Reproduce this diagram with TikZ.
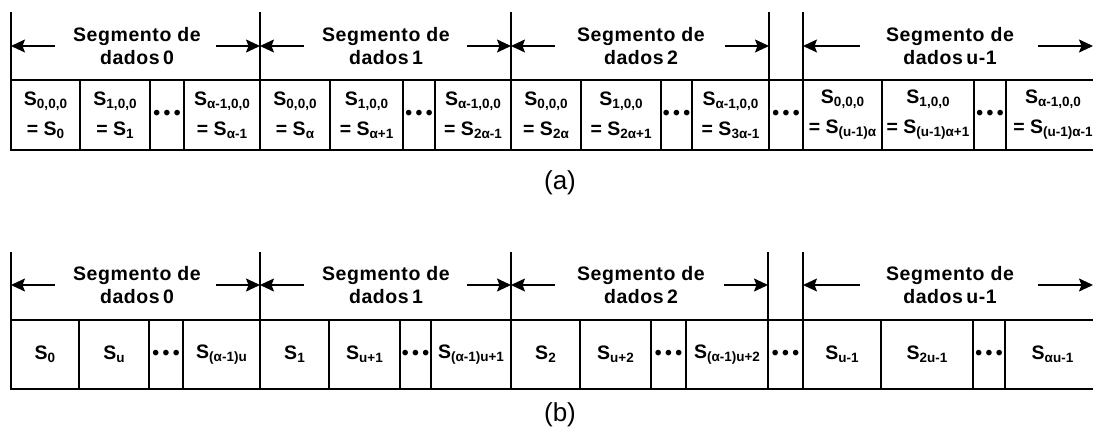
\documentclass[tikz,border=0pt]{standalone}
\usepackage{fontspec}
\setmainfont{Liberation Sans}
\newfontfamily\headfont[LetterSpace=3]{Liberation Sans}
\usetikzlibrary{arrows.meta}

% lowered, smaller index after an S
\newcommand\lowsub[1]{\raisebox{-3pt}{\fontsize{13.5}{13.5}\selectfont #1}}
% three bold dots
\newcommand\threedots{•\hspace{3.5pt}•\hspace{3.5pt}•}
% one cell of a row: name, left x, right x, top y, bottom y, contents
\newcommand\cellbox[6]{%
  \node[cell, minimum width={#3-#2}, minimum height={#5-#4}] (#1)
    at ({(#2+#3)/2},{(#4+#5)/2}) {#6};}

\tikzset{
  frame/.style={line width=1.6pt},
  cell/.style={frame, draw, inner sep=0pt, outer sep=0pt, align=center,
    font=\fontsize{19.5}{30}\selectfont\bfseries},
  head/.style={inner sep=0pt, align=center,
    font=\headfont\fontsize{19.5}{23}\selectfont\bfseries},
  arr/.style={line width=1.6pt, -{Stealth[length=14pt,width=13pt,inset=2.5pt]}},
  caption/.style={font=\fontsize{26}{26}\selectfont}
}

\begin{document}
\begin{tikzpicture}[x=1pt, y=-1pt]
\useasboundingbox (0,0) rectangle (1093,433);
\clip (0,0) rectangle (1093,433);

% ---------------- (a) ----------------
\cellbox{a1}{11}{80}{80}{150}{S\lowsub{0,0,0}\\= S\lowsub{0}}
\cellbox{a2}{80}{150}{80}{150}{S\lowsub{1,0,0}\\= S\lowsub{1}}
\cellbox{a3}{150}{184}{80}{150}{\threedots}
\cellbox{a4}{184}{260}{80}{150}{S\lowsub{α-1,0,0}\\= S\lowsub{α-1}}
\cellbox{a5}{260}{330}{80}{150}{S\lowsub{0,0,0}\\= S\lowsub{α}}
\cellbox{a6}{330}{403}{80}{150}{S\lowsub{1,0,0}\\= S\lowsub{α+1}}
\cellbox{a7}{403}{435}{80}{150}{\threedots}
\cellbox{a8}{435}{511}{80}{150}{S\lowsub{α-1,0,0}\\= S\lowsub{2α-1}}
\cellbox{a9}{511}{581}{80}{150}{S\lowsub{0,0,0}\\= S\lowsub{2α}}
\cellbox{a10}{581}{661}{80}{150}{S\lowsub{1,0,0}\\= S\lowsub{2α+1}}
\cellbox{a11}{661}{692}{80}{150}{\threedots}
\cellbox{a12}{692}{769}{80}{150}{S\lowsub{α-1,0,0}\\= S\lowsub{3α-1}}
\cellbox{a13}{769}{803}{80}{150}{\threedots}
\cellbox{a14}{803}{882}{80}{150}{S\lowsub{0,0,0}\\= S\lowsub{(u-1)α}}
\cellbox{a15}{882}{974}{80}{150}{S\lowsub{1,0,0}\\= S\lowsub{(u-1)α+1}}
\cellbox{a16}{974}{1006}{80}{150}{\threedots}
\cellbox{a17}{1006}{1100}{80}{150}{S\lowsub{α-1,0,0}\\= S\lowsub{(u-1)α-1}}

% segment borders rising above the cells
\foreach \c in {a1,a5,a9,a13,a14}
  \draw[frame] (\c.north west) -- ++(0,-68);
\draw[frame] (a13.north east) -- ++(0,-68);

% segment titles
\node[head] (ha0) at (137,46) {Segmento de\\dados\,0};
\node[head] (ha1) at (386,46) {Segmento de\\dados\,1};
\node[head] (ha2) at (641,46) {Segmento de\\dados\,2};
\node[head] (ha3) at (950,46) {Segmento de\\dados\,u-1};

\coordinate (pa0) at (11,46);
\coordinate (pa1) at (260,46);
\coordinate (pa2) at (511,46);
\coordinate (pa3) at (769,46);
\coordinate (pa4) at (803,46);
\coordinate (pa5) at (1093,46);

\draw[arr] ([xshift=44pt]pa0) -- (pa0);
\draw[arr] ([xshift=-44pt]pa1) -- (pa1);
\draw[arr] ([xshift=44pt]pa1) -- (pa1);
\draw[arr] ([xshift=-44pt]pa2) -- (pa2);
\draw[arr] ([xshift=44pt]pa2) -- (pa2);
\draw[arr] ([xshift=-44pt]pa3) -- (pa3);
\draw[arr] ([xshift=57pt]pa4) -- (pa4);
\draw[arr] ([xshift=-55pt]pa5) -- (pa5);

\node[caption] (capa) at (560,183) {(a)};

% ---------------- (b) ----------------
\cellbox{b1}{11}{79}{320}{389}{S\lowsub{0}}
\cellbox{b2}{79}{149}{320}{389}{S\lowsub{u}}
\cellbox{b3}{149}{183}{320}{389}{\threedots}
\cellbox{b4}{183}{260}{320}{389}{S\lowsub{(α-1)u}}
\cellbox{b5}{260}{329}{320}{389}{S\lowsub{1}}
\cellbox{b6}{329}{400}{320}{389}{S\lowsub{u+1}}
\cellbox{b7}{400}{431}{320}{389}{\threedots}
\cellbox{b8}{431}{511}{320}{389}{S\lowsub{(α-1)u+1}}
\cellbox{b9}{511}{580}{320}{389}{S\lowsub{2}}
\cellbox{b10}{580}{651}{320}{389}{S\lowsub{u+2}}
\cellbox{b11}{651}{686}{320}{389}{\threedots}
\cellbox{b12}{686}{768}{320}{389}{S\lowsub{(α-1)u+2}}
\cellbox{b13}{768}{803}{320}{389}{\threedots}
\cellbox{b14}{803}{881}{320}{389}{S\lowsub{u-1}}
\cellbox{b15}{881}{973}{320}{389}{S\lowsub{2u-1}}
\cellbox{b16}{973}{1005}{320}{389}{\threedots}
\cellbox{b17}{1005}{1100}{320}{389}{S\lowsub{αu-1}}

\foreach \c in {b1,b5,b9,b13,b14}
  \draw[frame] (\c.north west) -- ++(0,-68);
\draw[frame] (b13.north east) -- ++(0,-68);

\node[head] (hb0) at (137,285) {Segmento de\\dados\,0};
\node[head] (hb1) at (386,285) {Segmento de\\dados\,1};
\node[head] (hb2) at (641,285) {Segmento de\\dados\,2};
\node[head] (hb3) at (950,285) {Segmento de\\dados\,u-1};

\coordinate (pb0) at (11,285);
\coordinate (pb1) at (260,285);
\coordinate (pb2) at (511,285);
\coordinate (pb3) at (768,285);
\coordinate (pb4) at (803,285);
\coordinate (pb5) at (1093,285);

\draw[arr] ([xshift=44pt]pb0) -- (pb0);
\draw[arr] ([xshift=-44pt]pb1) -- (pb1);
\draw[arr] ([xshift=44pt]pb1) -- (pb1);
\draw[arr] ([xshift=-44pt]pb2) -- (pb2);
\draw[arr] ([xshift=44pt]pb2) -- (pb2);
\draw[arr] ([xshift=-44pt]pb3) -- (pb3);
\draw[arr] ([xshift=57pt]pb4) -- (pb4);
\draw[arr] ([xshift=-55pt]pb5) -- (pb5);

\node[caption] (capb) at (560,415) {(b)};
\end{tikzpicture}
\end{document}
